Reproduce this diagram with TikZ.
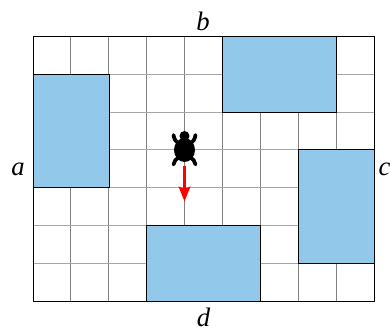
\documentclass[tikz,border=0pt]{standalone}
\usepackage{fontspec}
\setmainfont{Liberation Serif}
\usetikzlibrary{arrows.meta}
\definecolor{roomblue}{HTML}{92C9EB}
\tikzset{
  px/.style={x=0.75pt,y=-0.75pt},
  gridv/.style={draw=black!50,line width=0.75pt},
  gridh/.style={draw=black!35,line width=0.75pt},
  room/.style={fill=roomblue,draw=black,line width=0.75pt},
  sidelabel/.style={font=\itshape\fontsize{20}{20}\selectfont,inner sep=0pt},
  turtleleg/.style={draw=black,line width=2.8pt,line cap=round},
}
\begin{document}
\begin{tikzpicture}[px]
\useasboundingbox (0,0) rectangle (390,329);
\foreach \i in {1,...,8} \draw[gridv] ({33+\i*37.9},36.5) -- ({33+\i*37.9},301);
\foreach \j in {1,...,6} \draw[gridh] (33,{36.5+\j*37.79}) -- (374,{36.5+\j*37.79});
\draw[room] (33,74.3) rectangle (109,187.7);
\draw[room] (222.5,36.5) rectangle (336.1,112.1);
\draw[room] (298.3,149.9) rectangle (374,263.2);
\draw[room] (146.9,225.4) rectangle (260.4,301);
\draw[line width=0.7pt] (33,36.5) rectangle (374,301);
% turtle
\fill (184.5,136) circle (5);
\fill (184.5,150) ellipse (10.5 and 12);
\draw[turtleleg] (173.5,135) .. controls (174,139) and (176,142) .. (179,144);
\draw[turtleleg] (195.5,135) .. controls (195,139) and (193,142) .. (190,144);
\draw[turtleleg] (173.5,164.5) .. controls (174,161) and (176,159) .. (179,157);
\draw[turtleleg] (195.5,164.5) .. controls (195,161) and (193,159) .. (190,157);
% heading
\draw[red,line width=2.4pt,-{Stealth[length=11pt,width=8.5pt,inset=1.5pt]}] (184.5,166) -- (184.5,201.5);
\node[sidelabel] (a) at (18,169) {a};
\node[sidelabel] (b) at (203,21) {b};
\node[sidelabel] (c) at (384.5,169) {c};
\node[sidelabel] (d) at (203.5,317) {d};
\end{tikzpicture}
\end{document}
